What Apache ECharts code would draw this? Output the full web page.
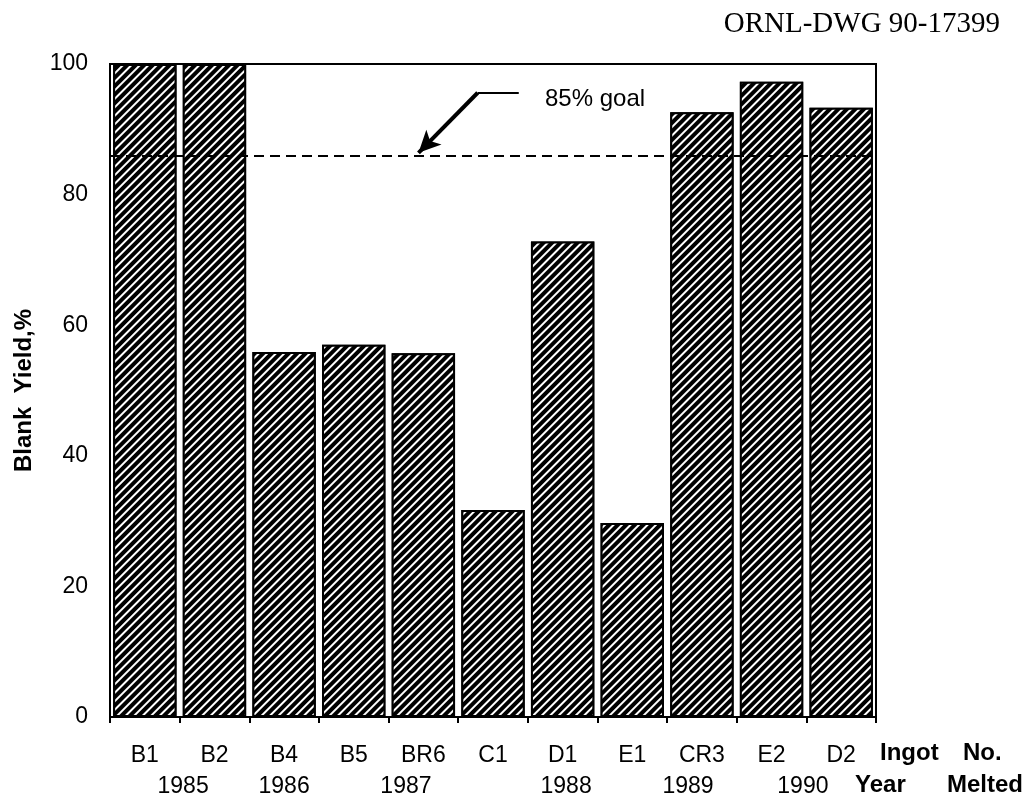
<!DOCTYPE html>
<html>
<head>
<meta charset="utf-8">
<script src="https://cdn.jsdelivr.net/npm/echarts@6/dist/echarts.min.js"></script>
<style>
  html, body { margin: 0; padding: 0; background: #fff; }
  #chart { width: 1032px; height: 804px; }
</style>
</head>
<body>
<div id="chart"></div>
<script>
// ---- data ----
const categories = ['B1', 'B2', 'B4', 'B5', 'BR6', 'C1', 'D1', 'E1', 'CR3', 'E2', 'D2'];
const yields = [100, 100, 55.9, 57.0, 55.7, 31.7, 72.8, 29.7, 92.6, 97.3, 93.3];
const yTickMin = 0;
const yTickMax = 100;
const yTickStep = 20;
const yearLabels = ['1985', '1986', '1987', '1988', '1989', '1990'];
const yearPos = [0.55, 2.0, 3.75, 6.05, 7.8, 9.45];   // in category units
const goalLine = 86;           // dashed line as drawn
const goalText = '85% goal';
const arrowPath = [[5.37, 95.6], [4.78, 95.6], [3.93, 86.4]];
const yearRow = -10.6;
const titleText = 'ORNL-DWG 90-17399';
const yName = 'Blank  Yield,%';

const FONT = 'Liberation Sans, Arial, Helvetica, sans-serif';

const chart = echarts.init(document.getElementById('chart'), null, { renderer: 'canvas' });

const option = {
  backgroundColor: '#fff',
  animation: false,
  grid: {
    left: 110, right: 156, top: 64, bottom: 87,
    show: true, borderColor: '#000', borderWidth: 2, backgroundColor: 'transparent'
  },
  xAxis: [
    {
      type: 'category',
      data: categories,
      boundaryGap: true,
      axisLine: { lineStyle: { color: '#000', width: 2 } },
      axisTick: { show: true, length: 6, lineStyle: { color: '#000', width: 2 } },
      axisLabel: { color: '#000', fontSize: 23, fontFamily: FONT, margin: 27 },
      splitLine: { show: false }
    },
    {
      type: 'value',
      min: -0.5, max: categories.length - 0.5,
      show: false
    }
  ],
  yAxis: {
    type: 'value',
    min: yTickMin, max: yTickMax, interval: yTickStep,
    name: yName,
    nameLocation: 'middle',
    nameGap: 74,
    nameTextStyle: { color: '#000', fontSize: 24, fontWeight: 'bold', fontFamily: FONT },
    axisLine: { show: true, lineStyle: { color: '#000', width: 2 } },
    axisTick: { show: true, length: 12, lineStyle: { color: '#000', width: 2 } },
    minorTick: { show: true, splitNumber: 2, length: 5, lineStyle: { color: '#000', width: 2 } },
    axisLabel: { color: '#000', fontSize: 23, fontFamily: FONT, margin: 22 },
    splitLine: { show: false }
  },
  series: [
    {
      type: 'bar',
      data: yields,
      barCategoryGap: '9%',
      itemStyle: {
        color: '#000',
        borderColor: '#000',
        borderWidth: 2,
        decal: {
          symbol: 'rect',
          symbolSize: 1,
          color: '#fff',
          dashArrayX: [1, 0],
          dashArrayY: [1.9, 3.3],
          rotation: -Math.PI / 4
        }
      },
      markLine: {
        silent: true,
        symbol: ['none', 'none'],
        label: { show: false },
        lineStyle: { color: '#000', width: 2, type: [10, 6] },
        data: [{ yAxis: goalLine }]
      }
    },
    {
      type: 'scatter',
      xAxisIndex: 1,
      yAxisIndex: 0,
      clip: false,
      symbolSize: 0,
      silent: true,
      itemStyle: { color: '#000', opacity: 1 },
      data: yearPos.map((p, i) => ({ value: [p, yearRow], name: yearLabels[i] })),
      label: {
        show: true,
        position: 'inside',
        formatter: (p) => p.name,
        color: '#000',
        opacity: 1,
        textBorderWidth: 0,
        fontSize: 23,
        fontFamily: FONT
      },
      markLine: {
        silent: true,
        symbol: ['none', 'none'],
        label: { show: false },
        lineStyle: { color: '#000', width: 2, type: 'solid' },
        data: [
          [{ coord: arrowPath[0] }, { coord: arrowPath[1] }],
          [{ coord: arrowPath[1], lineStyle: { width: 4 } },
           { coord: arrowPath[2], symbol: 'arrow', symbolSize: [16, 22], lineStyle: { width: 4 } }]
        ]
      }
    }
  ],
  graphic: [
    { type: 'text', right: 32, top: 10,
      style: { text: titleText, font: '29px "Liberation Serif", "Times New Roman", serif', fill: '#000' } },
    { type: 'text', left: 545, top: 87,
      style: { text: goalText, font: '24px ' + FONT, fill: '#000' } },
    { type: 'text', left: 880, top: 741,
      style: { text: 'Ingot', font: 'bold 24px ' + FONT, fill: '#000' } },
    { type: 'text', left: 963, top: 741,
      style: { text: 'No.', font: 'bold 24px ' + FONT, fill: '#000' } },
    { type: 'text', left: 855, top: 773,
      style: { text: 'Year', font: 'bold 24px ' + FONT, fill: '#000' } },
    { type: 'text', left: 947, top: 773,
      style: { text: 'Melted', font: 'bold 24px ' + FONT, fill: '#000' } }
  ]
};

chart.setOption(option);
</script>
</body>
</html>
